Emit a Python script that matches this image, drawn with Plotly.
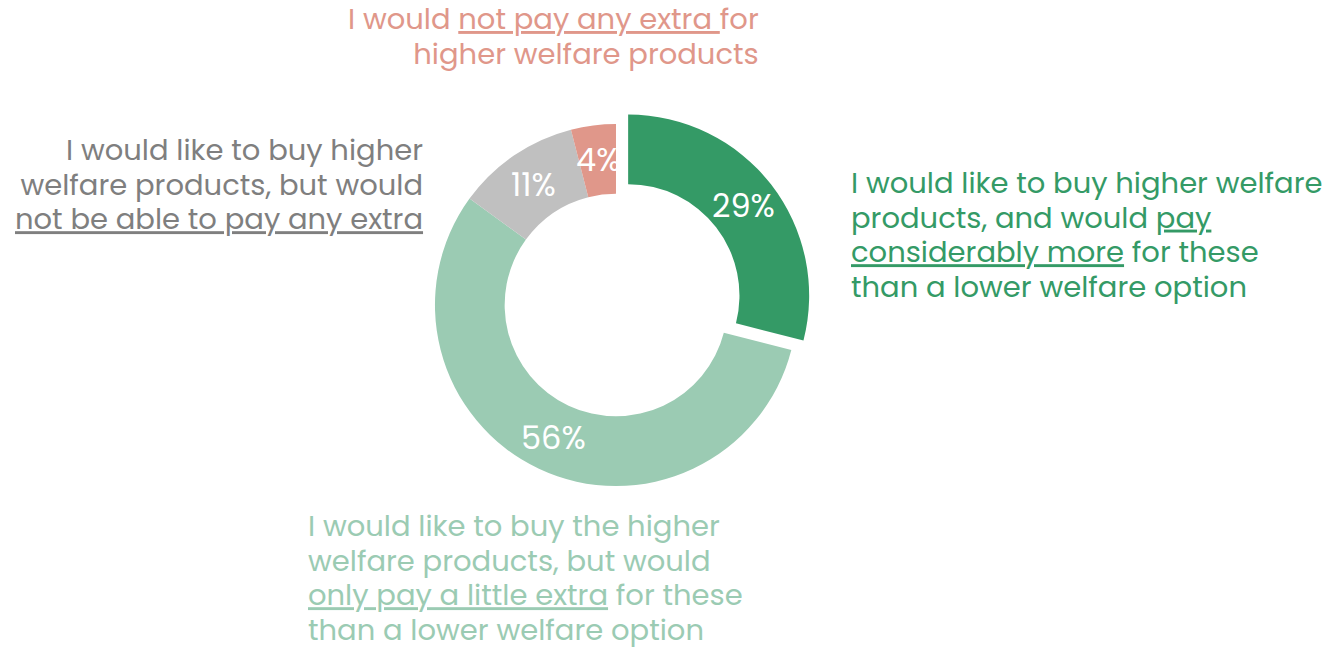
import math
import plotly.graph_objects as go

# Survey responses, clockwise from 12 o'clock
labels = [
    "Would pay considerably more",
    "Would only pay a little extra",
    "Could not pay any extra",
    "Would not pay any extra",
]
values = [29, 56, 11, 4]
colors = ["#349a66", "#9bcbb3", "#c0c0c0", "#e0978a"]
text_colors = ["#349a66", "#9bcbb3", "#7f7f7f", "#e0978a"]
pulls = [0.085, 0, 0, 0]

# Descriptions, one list entry per printed line
descriptions = [
    ["I would like to buy higher welfare",
     "products, and would <u>pay</u>",
     "<u>considerably more</u> for these",
     "than a lower welfare option"],
    ["I would like to buy the higher",
     "welfare products, but would",
     "<u>only pay a little extra</u> for these",
     "than a lower welfare option"],
    ["I would like to buy higher",
     "welfare products, but would",
     "<u>not be able to pay any extra</u>"],
    ["I would <u>not pay any extra </u>for",
     "higher welfare products"],
]

W, H = 1332, 656
FONT = "Poppins, DejaVu Sans, sans-serif"
HOLE = 0.615
LINE_PITCH = 34.6          # px between text lines
DESC_SIZE = 29             # glyph size of the descriptions
BASE_SIZE = LINE_PITCH / 1.3   # plotly spaces lines at 1.3 x base size

# pie box (paper fractions)
dom_x = [0.3150, 0.6099]
dom_y = [0.2357, 0.8345]

fig = go.Figure(
    go.Pie(
        labels=labels,
        values=values,
        marker=dict(colors=colors, line=dict(width=0)),
        pull=pulls,
        hole=HOLE,
        sort=False,
        direction="clockwise",
        rotation=0,
        textinfo="none",
        hoverinfo="label+percent",
        domain=dict(x=dom_x, y=dom_y),
        showlegend=False,
    )
)

# Percentage labels placed at the middle of each ring segment
box_w = (dom_x[1] - dom_x[0]) * W
box_h = (dom_y[1] - dom_y[0]) * H
max_pull = max(pulls)
radius = min(box_w, box_h) / (2 + 2 * max_pull)
cx = (dom_x[0] + dom_x[1]) / 2 * W
cy = (1 - (dom_y[0] + dom_y[1]) / 2) * H
total = sum(values)
cum = 0
annotations = []
for v, p in zip(values, pulls):
    mid = (cum + v / 2) / total * 2 * math.pi
    cum += v
    r = radius * (1 + HOLE) / 2 + radius * p
    px = cx + r * math.sin(mid)
    py = cy - r * math.cos(mid)
    annotations.append(dict(
        x=px / W, y=1 - py / H, xref="paper", yref="paper",
        text=f"{v}%", showarrow=False,
        font=dict(family=FONT, size=32, color="white"),
        xanchor="center", yanchor="middle",
    ))

# Category descriptions around the ring: anchor x, first-line y, side
desc_pos = [
    (849, 183, "left"),
    (306, 526, "left"),
    (425, 150, "right"),
    (761, 19.5, "right"),
]
for lines, col, (x, y0, side) in zip(descriptions, text_colors, desc_pos):
    block = "<br>".join(
        f'<span style="font-size:{DESC_SIZE}px">{line}</span>' for line in lines
    )
    y_mid = y0 + (len(lines) - 1) * LINE_PITCH / 2
    annotations.append(dict(
        x=x / W, y=1 - y_mid / H,
        xref="paper", yref="paper",
        text=block, showarrow=False, align=side,
        font=dict(family=FONT, size=BASE_SIZE, color=col),
        xanchor=side, yanchor="middle",
    ))

fig.update_layout(
    width=W, height=H,
    margin=dict(l=0, r=0, t=0, b=0),
    paper_bgcolor="white",
    plot_bgcolor="white",
    annotations=annotations,
)

fig.write_html("out.html")
